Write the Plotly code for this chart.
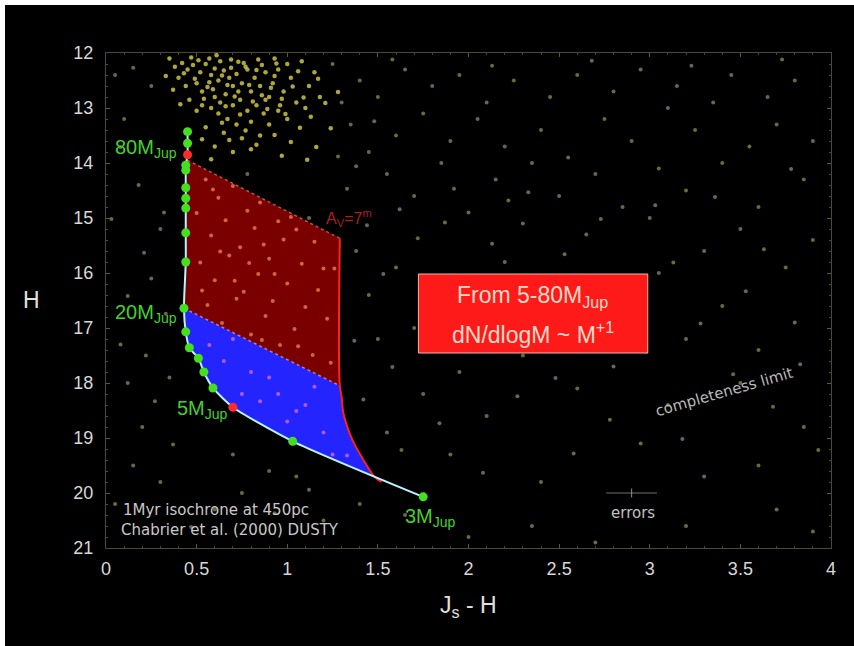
import plotly.graph_objects as go

# ---------------- data ----------------
# isochrone (1 Myr, 450 pc) model points
iso_x = [0.45, 0.45, 0.45, 0.44, 0.44, 0.44, 0.44, 0.44, 0.44, 0.44, 0.43, 0.44, 0.46, 0.51, 0.54, 0.59, 0.70, 1.03, 1.75]
iso_h = [13.43, 13.64, 13.85, 14.04, 14.13, 14.45, 14.64, 14.82, 15.27, 15.80, 16.64, 17.07, 17.36, 17.55, 17.80, 18.09, 18.44, 19.06, 20.07]
iso_red = [2, 16]  # indices of red model points

# extinction region boundaries
red_x = [0.45, 1.29, 1.29, 0.43]
red_h = [13.95, 15.37, 18.05, 16.64]
blue_x = [0.43, 1.29, 1.29, 1.31, 1.36, 1.43, 1.48, 1.30, 1.03, 0.85, 0.70, 0.59, 0.54, 0.51, 0.46, 0.44, 0.43]
blue_h = [16.64, 18.05, 18.10, 18.55, 19.04, 19.45, 19.70, 19.44, 19.06, 18.76, 18.44, 18.09, 17.80, 17.55, 17.36, 17.07, 16.64]
av_x = [1.29, 1.29, 1.30, 1.31, 1.36, 1.43, 1.48, 1.52]
av_h = [15.37, 18.05, 18.25, 18.55, 19.04, 19.45, 19.70, 19.80]

# bright cluster of field stars
clus_x = [0.38, 0.42, 0.45, 0.48, 0.52, 0.55, 0.58, 0.60, 0.62, 0.65, 0.68, 0.70, 0.72, 0.75, 0.78, 0.80, 0.82, 0.85, 0.88, 0.90,
          0.50, 0.53, 0.56, 0.60, 0.63, 0.66, 0.70, 0.74, 0.78, 0.83, 0.87, 0.92, 0.95, 0.98, 1.02, 1.05, 1.08, 1.12, 1.15, 0.35,
          0.40, 0.44, 0.47, 0.57, 0.63, 0.69, 0.76, 0.84, 0.93, 1.00, 0.62, 0.67, 0.72, 0.58, 0.80, 0.90, 0.95, 1.00, 0.55, 0.65,
          0.75, 0.85, 0.60, 0.70, 0.80, 0.50, 0.46, 0.53, 0.88, 0.96, 1.10, 1.18, 0.73, 0.67, 0.77, 0.86, 0.93,
          0.33, 0.37, 0.41, 0.43, 0.49, 0.51, 0.54, 0.57, 0.59, 0.61, 0.64, 0.66, 0.69, 0.71, 0.73, 0.74, 0.79, 0.81, 0.83, 0.86,
          0.89, 0.91, 0.94, 0.97, 0.99, 1.03, 1.06, 1.09, 1.13, 1.17, 1.21, 1.24, 1.28, 0.68, 0.77, 0.83, 0.93, 1.02, 1.07, 1.16,
          0.58, 0.64, 0.97, 1.11, 0.53]
clus_h = [12.25, 12.18, 12.30, 12.22, 12.35, 12.20, 12.40, 12.28, 12.50, 12.32, 12.45, 12.60, 12.38, 12.55, 12.30, 12.70, 12.45, 12.60, 12.35, 12.80,
          12.55, 12.70, 12.62, 12.80, 12.90, 12.75, 12.95, 12.85, 13.05, 12.95, 13.10, 12.55, 12.30, 12.70, 12.45, 12.90, 12.15, 12.60, 12.35, 12.10,
          12.45, 12.60, 12.08, 12.10, 12.15, 12.12, 12.18, 12.12, 12.10, 12.20, 13.10, 13.20, 13.30, 13.00, 13.25, 13.30, 13.05, 13.20, 13.35, 13.45,
          13.55, 13.50, 13.70, 13.80, 13.75, 13.05, 12.85, 12.95, 12.85, 12.95, 13.00, 12.80, 12.70, 12.58, 12.25, 12.22, 12.42,
          12.42, 12.67, 12.93, 12.37, 12.47, 12.13, 12.83, 12.53, 12.66, 12.04, 12.41, 12.97, 12.27, 12.79, 12.16, 13.12, 12.58, 12.88, 12.31, 12.77,
          13.02, 12.63, 12.19, 12.83, 13.11, 12.61, 12.33, 12.81, 13.16, 12.47, 12.91, 13.37, 12.71, 13.58, 13.41, 13.67, 13.49, 13.62, 13.36, 13.71,
          13.93, 13.27, 13.87, 13.94, 13.57]

# sparse field stars
field_x = [1.25, 1.30, 1.35, 1.40, 1.45, 1.50, 1.55, 1.60, 1.65, 1.70, 1.75, 1.80, 1.85, 1.90, 1.95, 2.00, 2.05, 2.10, 2.15, 2.20,
           2.25, 2.30, 2.35, 2.40, 2.45, 2.50, 2.55, 2.60, 2.65, 2.70, 2.75, 2.80, 2.85, 2.90, 2.95, 3.00, 3.05, 3.10, 3.15, 3.20,
           3.25, 3.30, 3.35, 3.40, 3.45, 3.50, 3.55, 3.60, 3.65, 3.70, 3.75, 3.80, 3.85, 3.90,
           1.38, 1.45, 1.50, 1.42, 1.55, 1.60, 1.70, 1.75, 1.80, 1.90, 1.95, 2.05, 2.10, 2.20, 2.30, 2.40, 2.45, 2.60, 2.70, 2.80,
           2.95, 3.05, 3.10, 3.20, 3.30, 3.40, 3.50, 3.60, 3.70, 3.80, 3.85, 3.90, 2.35, 1.65, 1.05, 0.90, 0.70, 0.20, 0.15, 0.08,
           0.25, 0.30, 0.18, 0.10, 0.25, 0.05, 0.32, 0.35, 0.60, 0.12, 0.22, 0.05, 0.30, 0.75, 1.20, 1.40, 2.00, 2.70, 3.20, 3.60, 3.90,
           0.78, 1.12,
           0.15, 0.08, 0.21, 0.12, 0.27, 0.33, 0.03, 0.37, 0.47, 0.93, 1.12, 1.33, 1.37, 1.44, 1.53, 1.58, 1.63, 1.72, 1.78, 1.84,
           1.87, 1.93, 2.02, 2.08, 2.13, 2.18, 2.27, 2.33, 2.38, 2.48, 2.53, 2.58, 2.63, 2.73, 2.78, 2.88, 2.98, 3.03, 3.13, 3.18,
           3.28, 3.36, 3.46, 3.53, 3.63, 3.68, 3.78, 3.83, 3.93, 3.73, 3.23, 2.68, 2.13, 1.58, 1.48, 1.38, 1.28, 1.62, 1.92, 2.22]
field_h = [12.20, 12.90, 13.30, 12.50, 13.80, 12.80, 14.20, 13.50, 12.30, 14.60, 13.10, 12.60, 14.00, 13.60, 12.40, 14.90, 13.20, 12.90, 14.30, 13.70,
           12.50, 15.10, 14.00, 13.40, 12.80, 14.60, 13.90, 12.40, 15.30, 14.20, 13.20, 12.70, 14.80, 13.60, 12.30, 15.00, 14.10, 13.00, 12.60, 14.50,
           13.40, 15.60, 12.90, 14.00, 12.40, 15.20, 13.70, 14.80, 12.80, 13.30, 15.90, 12.50, 14.30, 13.60,
           15.60, 16.40, 17.20, 18.30, 18.90, 15.90, 17.00, 18.20, 16.50, 19.30, 17.80, 16.10, 18.60, 15.80, 17.50, 19.80, 16.80, 18.10, 16.30, 17.70,
           19.10, 16.00, 18.40, 17.20, 19.70, 16.60, 18.00, 17.40, 20.30, 16.90, 18.80, 15.40, 20.60, 20.40, 19.70, 19.60, 19.30, 18.80, 19.50, 17.30,
           16.10, 15.20, 14.40, 13.20, 12.60, 12.40, 14.90, 17.90, 20.30, 18.00, 17.50, 20.20, 19.80, 20.00, 20.50, 20.20, 20.80, 20.90, 20.60, 19.50, 20.70,
           14.20, 15.00,
           12.27, 13.71, 15.63, 16.42, 18.33, 16.74, 15.02, 19.12, 20.62, 20.37, 19.94, 14.47, 17.23, 15.13, 16.02, 17.71, 19.22, 15.37, 16.87, 18.73,
           15.08, 16.47, 17.36, 19.63, 15.47, 16.93, 18.24, 14.53, 16.27, 17.91, 15.66, 19.28, 16.71, 15.02, 18.67, 16.18, 17.43, 14.77, 15.81, 19.02,
           16.92, 14.62, 17.84, 16.33, 15.57, 18.43, 14.11, 17.66, 19.22, 12.12, 12.23, 12.14, 12.23, 12.12, 13.24, 14.06, 13.88, 14.84, 14.47, 14.68]

# stars seen through the red (A_V) region
redst_x = [0.55, 0.62, 0.70, 0.78, 0.85, 0.95, 1.05, 1.15, 0.50, 0.58, 0.66, 0.74, 0.82, 0.90, 0.98, 1.08, 1.20, 0.52, 0.60, 0.68,
           0.76, 0.84, 0.92, 1.00, 1.10, 1.22, 0.56, 0.64, 0.72, 0.80, 0.88, 0.96, 1.04, 1.14, 1.24,
           0.59, 0.87, 1.02, 1.17, 0.71, 0.53, 0.93, 1.26, 0.79, 0.63, 1.06, 0.86]
redst_h = [14.30, 14.63, 14.42, 14.87, 14.72, 15.06, 15.21, 15.43, 14.91, 15.32, 15.04, 15.53, 15.18, 15.74, 15.39, 15.83, 15.92, 15.81, 16.13, 15.68,
           16.34, 16.02, 16.51, 16.19, 16.62, 16.83, 16.58, 16.91, 16.47, 17.12, 16.78, 17.31, 17.02, 17.49, 17.63,
           14.48, 15.48, 14.98, 16.31, 16.14, 16.32, 16.02, 15.92, 15.82, 15.61, 17.33, 17.22]

# stars seen through the blue region
bluest_x = [0.70, 0.65, 0.80, 0.95, 1.10, 1.20, 0.75, 1.00, 1.25, 0.90, 0.57, 0.85, 1.15, 1.33, 1.05]
bluest_h = [17.20, 17.60, 17.80, 18.20, 18.40, 18.90, 18.20, 18.70, 19.30, 17.90, 17.31, 18.33, 18.07, 19.32, 18.51]

x_ticks = [0, 0.5, 1, 1.5, 2, 2.5, 3, 3.5, 4]
x_tick_labels = ["0", "0.5", "1", "1.5", "2", "2.5", "3", "3.5", "4"]
y_ticks = [12, 13, 14, 15, 16, 17, 18, 19, 20, 21]

box_lines = ["From 5-80M<sub>Jup</sub>", "dN/dlogM ~ M<sup>+1</sup>"]

# ---------------- figure ----------------
L, R, T, B = 106, 23, 53, 98
W, H = 854, 646
pw, ph = W - L - R, H - T - B

def px_x(px):
    return (px - L) / pw

def px_y(py):
    return (H - B - py) / ph

fig = go.Figure()

fig.add_trace(go.Scatter(x=red_x, y=red_h, fill="toself", fillcolor="#7a0000",
                         mode="lines", line=dict(width=0), hoverinfo="skip"))
fig.add_trace(go.Scatter(x=blue_x, y=blue_h, fill="toself", fillcolor="#2424ff",
                         mode="lines", line=dict(width=0), hoverinfo="skip"))
# dotted upper edges
fig.add_trace(go.Scatter(x=red_x[0:2], y=red_h[0:2], mode="lines",
                         line=dict(color="#c05050", width=1.5, dash="dot")))
fig.add_trace(go.Scatter(x=[red_x[3], red_x[2]], y=[red_h[3], red_h[2]], mode="lines",
                         line=dict(color="#d070a0", width=1.5, dash="dot")))
# A_V = 7 boundary
fig.add_trace(go.Scatter(x=av_x, y=av_h, mode="lines", line=dict(color="#ff2020", width=2, shape="spline")))

# stars
fig.add_trace(go.Scatter(x=field_x, y=field_h, mode="markers",
                         marker=dict(size=4, color="#8c8c5a", opacity=0.75)))
fig.add_trace(go.Scatter(x=clus_x, y=clus_h, mode="markers",
                         marker=dict(size=4.5, color="#d8d048", opacity=0.8)))
fig.add_trace(go.Scatter(x=redst_x, y=redst_h, mode="markers",
                         marker=dict(size=4, color="#e07848", opacity=0.85)))
fig.add_trace(go.Scatter(x=bluest_x, y=bluest_h, mode="markers",
                         marker=dict(size=4, color="#c060e8", opacity=0.9)))

# isochrone
iso_colors = ["#ff2a2a" if i in iso_red else "#44e020" for i in range(len(iso_x))]
fig.add_trace(go.Scatter(x=iso_x, y=iso_h, mode="lines", line=dict(color="#b8f4ff", width=2, shape="spline", smoothing=0.6)))
fig.add_trace(go.Scatter(x=iso_x, y=iso_h, mode="markers", marker=dict(size=9, color=iso_colors)))

# errors bar
fig.add_trace(go.Scatter(x=[2.9], y=[20.0], mode="markers", marker=dict(size=1, color="#909090"),
                         error_x=dict(type="constant", value=0.14, color="#707070", thickness=1, width=0),
                         error_y=dict(type="constant", value=0.08, color="#909090", thickness=1, width=0)))

# red info box
fig.add_shape(type="rect", xref="x", yref="y", x0=(418 - L) / 181, x1=(647 - L) / 181,
              y0=12 + (274 - T) / 55, y1=12 + (353 - T) / 55,
              fillcolor="#ff1a1a", line=dict(color="#f0b8a8", width=1), layer="above")

green = "#44d030"
font = "Liberation Sans Narrow, Liberation Sans, Arial"
wide = "DejaVu Sans, Liberation Sans, Arial"
box_font = dict(size=23, color="#f6dcc8", family="Liberation Sans, Arial")
ann = [
    dict(x=0.40, y=13.73, text="80M<sub>Jup</sub>", xanchor="right", font=dict(size=20, color=green, family=font)),
    dict(x=0.40, y=16.73, text="20M<sub>Jup</sub>", xanchor="right", font=dict(size=20, color=green, family=font)),
    dict(x=0.685, y=18.49, text="5M<sub>Jup</sub>", xanchor="right", font=dict(size=20, color=green, family=font)),
    dict(x=1.94, y=20.45, text="3M<sub>Jup</sub>", xanchor="right", font=dict(size=20, color=green, family=font)),
    dict(x=1.34, y=15.0, text="A<sub>V</sub>=7<sup>m</sup>", font=dict(size=16, color="#a82020", family="Liberation Sans")),
    dict(x=0.085, y=20.31, text="1Myr isochrone at 450pc", xanchor="left", font=dict(size=15, color="#c8c8c8", family=wide)),
    dict(x=0.07, y=20.67, text="Chabrier et al. (2000) DUSTY", xanchor="left", font=dict(size=15, color="#c8c8c8", family=wide)),
    dict(x=3.41, y=18.16, text="completeness limit", textangle=-16, font=dict(size=15, color="#b8b8b8", family=wide)),
    dict(x=2.906, y=20.36, text="errors", font=dict(size=15, color="#c0c0c0", family=wide)),
    dict(x=2.354, y=12 + (296 - T) / 55, text=box_lines[0], font=box_font),
    dict(x=2.354, y=12 + (333 - T) / 55, text=box_lines[1], font=box_font),
]
for a in ann:
    a.setdefault("showarrow", False)
    a.setdefault("xref", "x")
    a.setdefault("yref", "y")
    fig.add_annotation(**a)

# axis titles
fig.add_annotation(x=px_x(31), y=px_y(300), xref="paper", yref="paper", text="H", showarrow=False,
                   xanchor="center", yanchor="middle", font=dict(size=23, color="#e0e0e0", family=font))
fig.add_annotation(x=px_x(468), y=px_y(606), xref="paper", yref="paper", text="J<sub>s</sub> - H", showarrow=False,
                   xanchor="center", yanchor="middle", font=dict(size=23, color="#e0e0e0", family=font))

# white photo border (top & left)
fig.add_shape(type="rect", xref="paper", yref="paper", x0=px_x(0), x1=px_x(5), y0=px_y(646), y1=px_y(0),
              fillcolor="#ffffff", line=dict(width=0), layer="above")
fig.add_shape(type="rect", xref="paper", yref="paper", x0=px_x(0), x1=px_x(854), y0=px_y(5), y1=px_y(0),
              fillcolor="#ffffff", line=dict(width=0), layer="above")

axis_common = dict(showgrid=False, zeroline=False, showline=True, linecolor="#4a4a2c", linewidth=1, mirror="ticks",
                   ticks="inside", ticklen=4, tickcolor="#5a5a38",
                   tickfont=dict(size=18, color="#d8d8d8", family=font))
fig.update_xaxes(range=[0, 4], tickvals=x_ticks, ticktext=x_tick_labels, ticklabelstandoff=4,
                 minor=dict(dtick=0.1, ticks="inside", ticklen=2, tickcolor="#4a4a30"), **axis_common)
fig.update_yaxes(range=[21, 12], tickvals=y_ticks, ticklabelstandoff=8,
                 minor=dict(dtick=0.2, ticks="inside", ticklen=2, tickcolor="#4a4a30"), **axis_common)

fig.update_layout(width=W, height=H, margin=dict(l=L, r=R, t=T, b=B),
                  paper_bgcolor="#000000", plot_bgcolor="#000000", showlegend=False)

fig.write_html("out.html")
